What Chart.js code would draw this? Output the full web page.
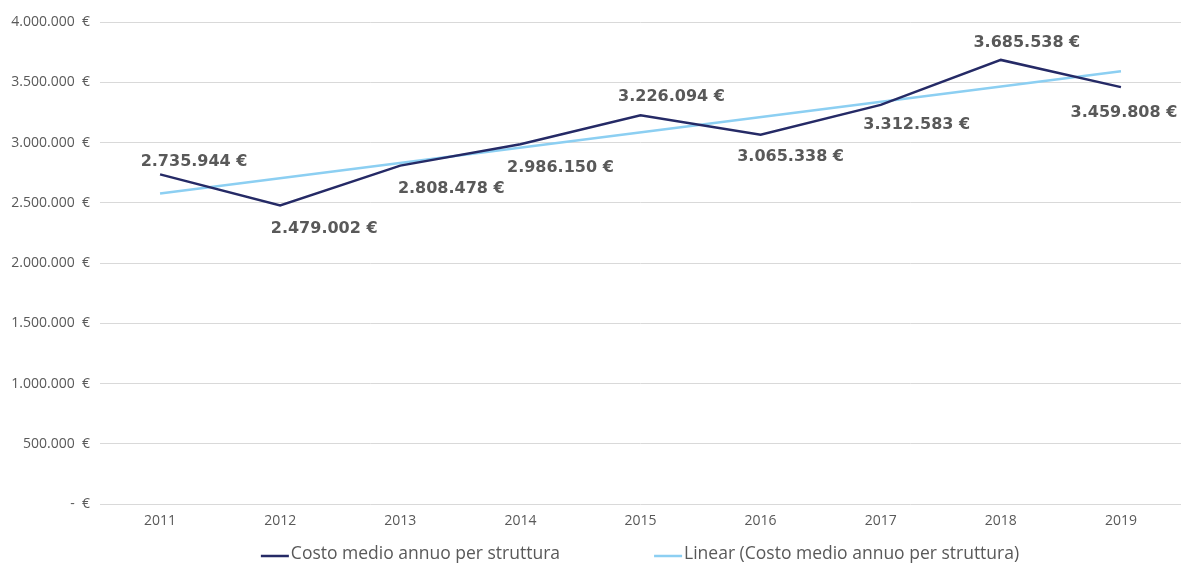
<!DOCTYPE html>
<html>
<head>
<meta charset="utf-8">
<script src="https://cdn.jsdelivr.net/npm/chart.js@4.4.1/dist/chart.umd.min.js"></script>
<style>
  html, body { margin: 0; padding: 0; background: #fff; }
  #wrap { width: 1181px; height: 564px; }
</style>
</head>
<body>
<div id="wrap"><canvas id="costChart" width="1181" height="564"></canvas></div>
<script>
const years = ['2011', '2012', '2013', '2014', '2015', '2016', '2017', '2018', '2019'];

const costoMedio = [
    2735944,
    2479002,
    2808478,
    2986150,
    3226094,
    3065338,
    3312583,
    3685538,
    3459808
];

// trend line at both ends (gap in between is spanned)
const trendLine = [2577500, null, null, null, null, null, null, null, 3591200];

const yTicks = [0, 500000, 1000000, 1500000, 2000000, 2500000, 3000000, 3500000, 4000000];

// label placement around each point: [dx, dy]
const labelPlace = [
    [34, -13], [44, 23], [51, 23], [40, 24], [31, -18],
    [30, 22], [36, 20], [26, -17], [3, 26]
];

function euro(v) {
    if (v === 0) return '-  €';
    return v.toLocaleString('de-DE') + '  €';
}

const valueLabels = {
    id: 'valueLabels',
    afterDatasetsDraw(chart) {
        const ctx = chart.ctx;
        const meta = chart.getDatasetMeta(0);
        ctx.save();
        ctx.font = 'bold 16px "DejaVu Sans"';
        ctx.fillStyle = '#595959';
        ctx.textAlign = 'center';
        ctx.textBaseline = 'middle';
        meta.data.forEach((pt, i) => {
            const p = labelPlace[i];
            ctx.fillText(costoMedio[i].toLocaleString('de-DE') + ' €', pt.x + p[0], pt.y + p[1]);
        });
        ctx.restore();
    }
};

// legend drawn by hand: short line + text, two items with a wide gap
const lineLegend = {
    id: 'lineLegend',
    afterDraw(chart) {
        const ctx = chart.ctx;
        const y = 554;
        const gap = 94;
        ctx.save();
        ctx.font = '17.5px "Open Sans"';
        ctx.textBaseline = 'middle';
        const items = chart.data.datasets.map(ds => ({
            text: ds.label,
            color: ds.borderColor,
            w: 30 + ctx.measureText(ds.label).width
        }));
        const total = items.reduce((a, it) => a + it.w, 0) + gap * (items.length - 1);
        let x = 640 - total / 2;
        items.forEach(it => {
            ctx.strokeStyle = it.color;
            ctx.lineWidth = 2.5;
            ctx.beginPath();
            ctx.moveTo(x, y + 2);
            ctx.lineTo(x + 28, y + 2);
            ctx.stroke();
            ctx.fillStyle = '#595959';
            ctx.fillText(it.text, x + 30, y);
            x += it.w + gap;
        });
        ctx.restore();
    }
};

const costChart = document.getElementById('costChart');

new Chart(costChart, {
    type: 'line',
    data: {
        labels: years,
        datasets: [
            {
                label: 'Costo medio annuo per struttura',
                data: costoMedio,
                borderColor: '#252a66',
                backgroundColor: '#252a66',
                borderWidth: 2.5,
                pointRadius: 0,
                tension: 0
            },
            {
                label: 'Linear (Costo medio annuo per struttura)',
                data: trendLine,
                borderColor: '#8ccff2',
                backgroundColor: '#8ccff2',
                borderWidth: 2.5,
                pointRadius: 0,
                spanGaps: true
            }
        ]
    },
    options: {
        responsive: false,
        animation: false,
        layout: {
            padding: { top: 22, right: 0, left: 0, bottom: 35 }
        },
        scales: {
            x: {
                offset: true,
                grid: { display: false },
                border: { display: false },
                ticks: {
                    color: '#595959',
                    font: { family: '"Open Sans"', size: 14 },
                    padding: 0
                }
            },
            y: {
                min: 0,
                max: 4000000,
                afterBuildTicks: (s) => { s.ticks = yTicks.map(v => ({ value: v })); },
                afterFit: (s) => { s.width = 100; },
                grid: { color: '#d9d9d9', drawTicks: false, lineWidth: 1 },
                border: { display: false },
                ticks: {
                    color: '#595959',
                    font: { family: '"Open Sans"', size: 14 },
                    padding: 10,
                    callback: (v) => euro(v)
                }
            }
        },
        plugins: {
            legend: { display: false },
            tooltip: { enabled: false }
        }
    },
    plugins: [valueLabels, lineLegend]
});
</script>
</body>
</html>
